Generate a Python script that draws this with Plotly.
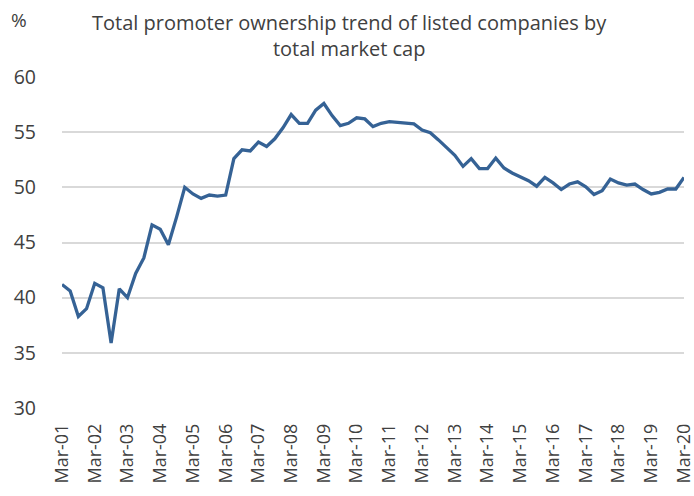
import plotly.graph_objects as go

months = ["Mar", "Jun", "Sep", "Dec"]
quarters = [f"{m}-{y:02d}" for y in range(1, 21) for m in months][:77]

promoter_share = [
    41.2, 40.6, 38.3, 39.0, 41.3, 40.9, 35.9, 40.8, 40.0, 42.2,
    43.6, 46.6, 46.2, 44.8, 47.3, 50.0, 49.4, 49.0, 49.3, 49.2,
    49.3, 52.6, 53.4, 53.3, 54.1, 53.7, 54.4, 55.4, 56.6, 55.8,
    55.8, 57.0, 57.6, 56.5, 55.6, 55.8, 56.3, 56.2, 55.5, 55.8,
    55.95, 55.9, 55.85, 55.75, 55.2, 54.95, 54.3, 53.6, 52.9, 51.9,
    52.6, 51.7, 51.7, 52.65, 51.75, 51.3, 50.95, 50.6, 50.1, 50.9,
    50.4, 49.8, 50.3, 50.5, 50.05, 49.35, 49.7, 50.75, 50.4, 50.2,
    50.3, 49.8, 49.4, 49.55, 49.85, 49.85, 50.9,
]

tick_labels = quarters[::4]
y_ticks = [30, 35, 40, 45, 50, 55, 60]

title_text = "Total promoter ownership trend of listed companies by<br>total market cap"
unit_text = "%"

FONT = "Open Sans"
TXT = "#404040"

fig = go.Figure()
fig.add_trace(go.Scatter(
    x=quarters, y=promoter_share, mode="lines",
    line=dict(color="#356295", width=3.3),
    hoverinfo="skip", showlegend=False,
))

fig.update_layout(
    width=694, height=496,
    margin=dict(l=62, r=10, t=77, b=88, autoexpand=False),
    paper_bgcolor="white", plot_bgcolor="white",
    font=dict(family=FONT, color=TXT, size=19),
    xaxis=dict(type="category", range=[0, 76], tickmode="array",
               tickvals=tick_labels, ticktext=tick_labels, tickangle=-90,
               showgrid=False, zeroline=False, showline=False, ticks="",
               ticklabelstandoff=11, automargin=False,
               tickfont=dict(family=FONT, size=18, color=TXT)),
    yaxis=dict(range=[30, 60], tickvals=y_ticks, showgrid=True,
               gridcolor="#d9d9d9", gridwidth=1.5, zeroline=False,
               showline=False, ticks="", ticklabelstandoff=25, automargin=False,
               tickfont=dict(family=FONT, size=19.5, color=TXT)),
    annotations=[
        dict(text=title_text, xref="paper", yref="paper",
             x=0.463, y=1.172 + 0.04, xanchor="center", yanchor="top",
             align="center", showarrow=False,
             font=dict(family=FONT, size=20, color=TXT)),
        dict(text=unit_text, xref="paper", yref="paper",
             x=-0.069, y=1.172, xanchor="center", yanchor="middle",
             showarrow=False, font=dict(family=FONT, size=19, color=TXT)),
    ],
)

fig.write_html("out.html", config={"displayModeBar": False},
               post_script="document.body.style.margin='0';")
